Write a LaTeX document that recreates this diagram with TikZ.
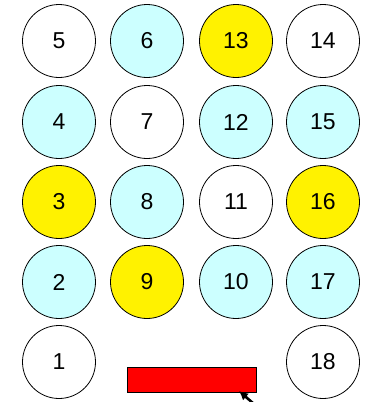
\documentclass[tikz,border=0pt]{standalone}
\usepackage{fontspec}
\setmainfont{Liberation Sans}
\usetikzlibrary{arrows.meta,positioning}
\definecolor{lcyan}{HTML}{CCFFFF}

\begin{document}
\begin{tikzpicture}[x=1pt,y=-1pt,
every node/.style={circle,draw,line width=.8pt,minimum size=73pt,inner sep=0pt,font=\fontsize{23}{23}\selectfont}]
\useasboundingbox (0,0) rectangle (365,402);
\node[fill=white] (N5) at (59,41) {5};
\node[fill=lcyan] (N6) at (147,41) {6};
\node[fill=yellow] (N13) at (236,41) {13};
\node[fill=white] (N14) at (323,41) {14};
\node[fill=lcyan] (N4) at (59,122) {4};
\node[fill=white] (N7) at (147,122) {7};
\node[fill=lcyan] (N12) at (236,122) {12};
\node[fill=lcyan] (N15) at (323,122) {15};
\node[fill=yellow] (N3) at (59,202) {3};
\node[fill=lcyan] (N8) at (147,202) {8};
\node[fill=white] (N11) at (236,202) {11};
\node[fill=yellow] (N16) at (323,202) {16};
\node[fill=lcyan] (N2) at (59,282) {2};
\node[fill=yellow] (N9) at (147,282) {9};
\node[fill=lcyan] (N10) at (236,282) {10};
\node[fill=lcyan] (N17) at (323,282) {17};
\node[fill=white] (N1) at (59,362) {1};
\node[fill=white] (N18) at (323,362) {18};
\node[rectangle,fill=red,minimum width=129pt,minimum height=25pt] (bar) at (191.5,379.5) {};
\coordinate (cur) at (254,404);
\coordinate (tip) at (239,391);
\draw[line width=2.6pt,-{Latex[length=9pt,width=9pt]}] (cur)--(tip);
\end{tikzpicture}
\end{document}
